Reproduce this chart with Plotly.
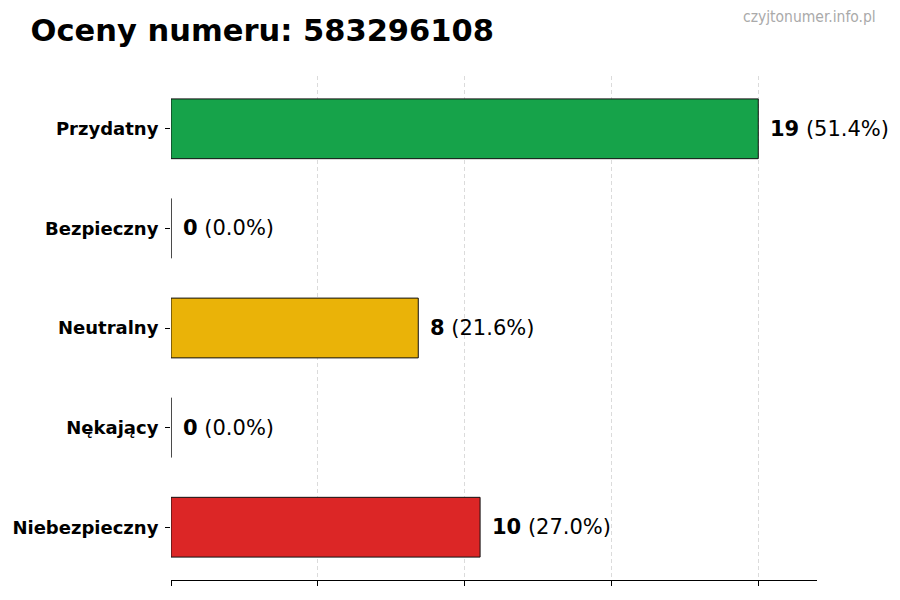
import plotly.graph_objects as go

# Dane z wykresu
categories = ['Przydatny', 'Bezpieczny', 'Neutralny', 'Nękający', 'Niebezpieczny']
counts = [19, 0, 8, 0, 10]
colors = ['#16a34a', '#9ca3af', '#eab308', '#f97316', '#dc2626']
title_text = 'Oceny numeru: 583296108'
watermark = 'czyjtonumer.info.pl'

total = sum(counts)
max_val = max(counts)

fig = go.Figure()

fig.add_trace(
    go.Bar(
        x=counts,
        y=categories,
        orientation='h',
        width=0.6,
        marker=dict(color=colors, line=dict(color='#111111', width=1)),
        hoverinfo='skip',
    )
)

# Value labels next to the bars
for cat, val in zip(categories, counts):
    pct = val / total * 100
    fig.add_annotation(
        x=val, y=cat,
        text=f"<b>{val}</b> ({pct:.1f}%)",
        showarrow=False,
        xanchor='left',
        xshift=10,
        font=dict(family='DejaVu Sans', size=21, color='black'),
    )

tick_vals = [max_val * f for f in (0, 0.25, 0.5, 0.75, 1.0)]

fig.update_xaxes(
    range=[0, max_val * 1.1],
    tickvals=tick_vals,
    showticklabels=False,
    ticks='outside',
    ticklen=5,
    tickcolor='black',
    showgrid=True,
    gridcolor='rgba(0,0,0,0.14)',
    griddash='4px,3px',
    gridwidth=1,
    showline=True,
    linecolor='black',
    linewidth=1,
    zeroline=False,
    layer='above traces',
)

fig.update_yaxes(
    categoryorder='array',
    categoryarray=categories[::-1],
    range=[-0.53, 4.53],
    ticks='outside',
    ticklen=5,
    tickcolor='black',
    ticklabelstandoff=3,
    tickfont=dict(family='DejaVu Sans', size=18, color='black', weight='bold'),
    showgrid=False,
    showline=False,
    zeroline=False,
)

fig.add_annotation(
    xref='paper', yref='paper',
    x=1.094, y=1.117,
    text=watermark,
    showarrow=False,
    xanchor='right', yanchor='middle',
    font=dict(family='Liberation Sans Narrow, DejaVu Sans Condensed, sans-serif', size=15.5, color='#aaaaaa'),
)

fig.update_layout(
    title=dict(
        text=f"<b>{title_text}</b>",
        x=0.034, xanchor='left',
        y=0.95, yanchor='middle',
        font=dict(family='DejaVu Sans', size=30.5, color='black'),
    ),
    width=900,
    height=600,
    margin=dict(l=171, r=83, t=76, b=20),
    plot_bgcolor='white',
    paper_bgcolor='white',
    showlegend=False,
    bargap=0.4,
)

fig.write_html(
    "out.html",
    config={'displayModeBar': False},
    post_script="document.body.style.margin='0';",
)
